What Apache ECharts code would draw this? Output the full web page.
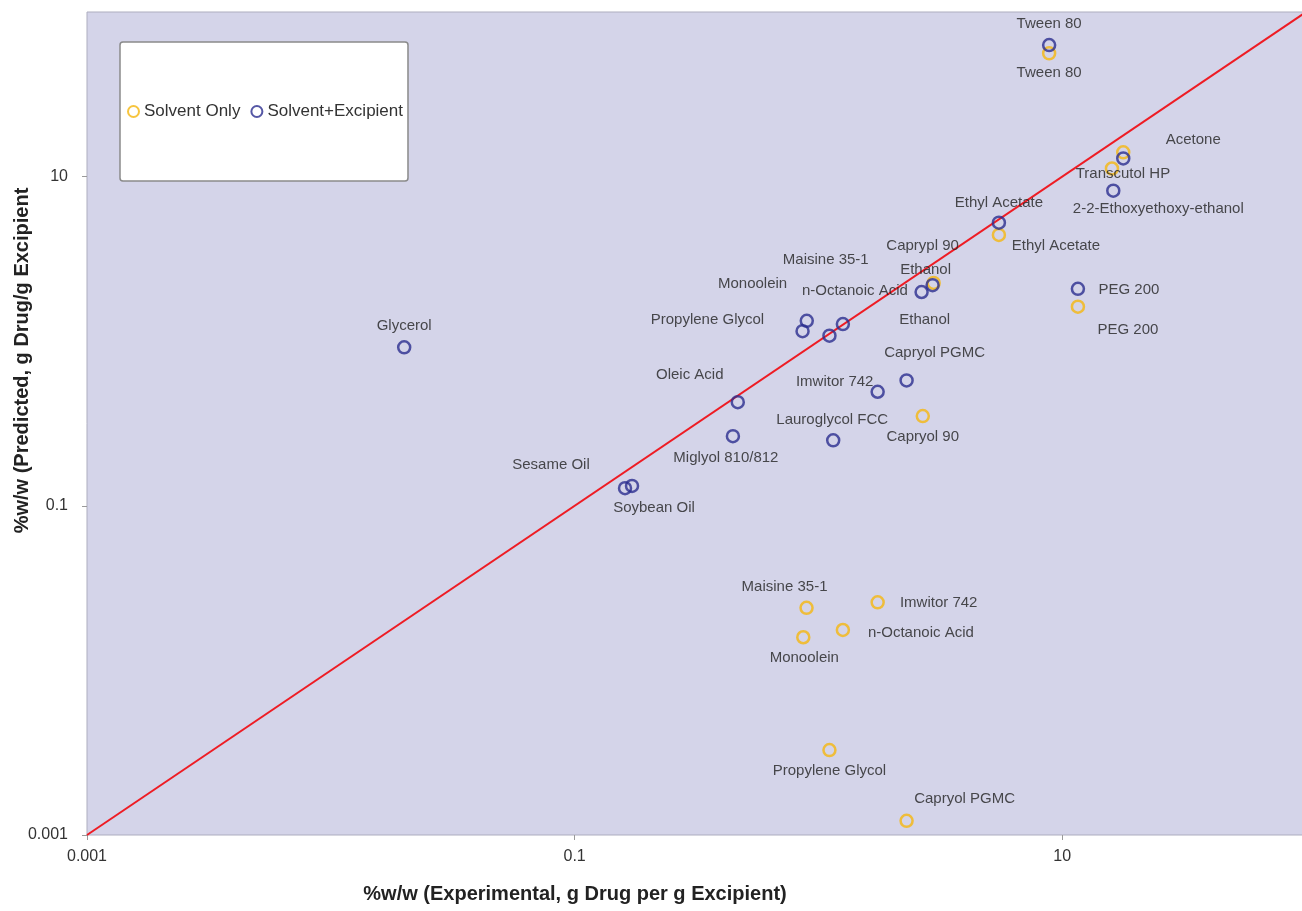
<!DOCTYPE html>
<html>
<head>
<meta charset="utf-8">
<script src="https://cdn.jsdelivr.net/npm/echarts@6/dist/echarts.min.js"></script>
<style>
html,body{margin:0;padding:0;background:#fff;}
#chart{width:1302px;height:911px;}
</style>
</head>
<body>
<div id="chart"></div>
<script>
// ---- Data ----
const xTickValues = [0.001, 0.1, 10];
const yTickValues = [0.001, 0.1, 10];

const soloNames = ['Tween 80','Acetone','Transcutol HP','Ethyl Acetate','Ethanol','PEG 200','Capryol 90','Maisine 35-1','Imwitor 742','n-Octanoic Acid','Monoolein','Propylene Glycol','Capryol PGMC'];
const soloX = [8.84, 17.8, 16.0, 5.50, 2.97, 11.6, 2.68, 0.894, 1.75, 1.26, 0.867, 1.11, 2.30];
const soloY = [56.1, 14.05, 11.2, 4.42, 2.26, 1.62, 0.351, 0.0240, 0.0259, 0.0176, 0.0159, 0.00328, 0.00122];

const excNames = ['Tween 80','Acetone','2-2-Ethoxyethoxy-ethanol','Ethyl Acetate','Ethanol','Caprypl 90','n-Octanoic Acid','Maisine 35-1','Monoolein','Propylene Glycol','PEG 200','Capryol PGMC','Imwitor 742','Oleic Acid','Miglyol 810/812','Lauroglycol FCC','Sesame Oil','Soybean Oil','Glycerol'];
const excX = [8.84, 17.8, 16.2, 5.50, 2.94, 2.65, 1.26, 0.896, 0.861, 1.11, 11.6, 2.30, 1.75, 0.467, 0.446, 1.15, 0.161, 0.172, 0.0200];
const excY = [63.0, 12.9, 8.21, 5.25, 2.19, 1.99, 1.27, 1.33, 1.15, 1.08, 2.08, 0.578, 0.493, 0.426, 0.265, 0.250, 0.128, 0.132, 0.918];

const identityX = [0.001, 100];
const identityY = [0.001, 100];

// ---- Label placement (pixel offsets from marker centre) ----
const soloLabelOffsets = [[0,20],[70,-12],[11,5],[57,11],[-9,37],[50,23],[0,21],[-22,-21],[61,0],[78,3],[1,21],[0,21],[58,-22]];
const excLabelOffsets = [[0,-21],null,[45,18],[0,-20],[-7,-15],[1,-46],[12,-33],[19,-61],[-50,-47],[-122,-16],[51,1],[28,-28],[-43,-10],[-48,-27],[-7,22],[-1,-20],[-74,-23],[22,22],[0,-21]];

const FONT = 'Liberation Sans, Arial, Helvetica, sans-serif';
const YELLOW = '#f5b70f';
const BLUE = '#2a2d8f';

function buildPoints(names, xs, ys, offsets) {
  return names.map((n, i) => {
    const off = offsets[i];
    return {
      name: n,
      value: [xs[i], ys[i]],
      label: off ? { show: true, formatter: n, position: 'inside', offset: off } : { show: false }
    };
  });
}

const chart = echarts.init(document.getElementById('chart'), null, { renderer: 'canvas' });

const axisCommon = {
  type: 'log',
  min: 0.001,
  max: 100,
  axisLine: { show: false },
  splitLine: { show: false },
  minorTick: { show: false },
  nameMoveOverlap: false
};

chart.setOption({
  animation: false,
  backgroundColor: '#ffffff',
  grid: {
    left: 87, top: 12, right: -4, bottom: 76,
    containLabel: false,
    outerBoundsMode: 'none',
    show: true,
    backgroundColor: '#d4d4e9',
    borderColor: '#adadbf',
    borderWidth: 1
  },
  legend: {
    left: 120, top: 42,
    orient: 'horizontal',
    padding: [61, 5, 61, 7],
    backgroundColor: '#ffffff',
    borderColor: '#8a8a8a',
    borderWidth: 1.5,
    borderRadius: 3,
    itemWidth: 11, itemHeight: 11, itemGap: 10,
    textStyle: { fontFamily: FONT, fontSize: 17, color: '#333' },
    data: ['Solvent Only', 'Solvent+Excipient']
  },
  xAxis: Object.assign({}, axisCommon, {
    name: '%w/w (Experimental, g Drug per g Excipient)',
    nameLocation: 'middle',
    nameGap: 49,
    nameTextStyle: { fontFamily: FONT, fontSize: 20, fontWeight: 'bold', color: '#222', padding: [0, 243, 0, 0] },
    axisTick: { show: true, inside: false, length: 5, lineStyle: { color: '#9a9a9a' }, customValues: xTickValues },
    axisLabel: { fontFamily: FONT, fontSize: 16, color: '#333', margin: 14, customValues: xTickValues, formatter: v => String(v) }
  }),
  yAxis: Object.assign({}, axisCommon, {
    name: '%w/w (Predicted, g Drug/g Excipient',
    nameLocation: 'middle',
    nameGap: 55,
    nameTextStyle: { fontFamily: FONT, fontSize: 20, fontWeight: 'bold', color: '#222', padding: [0, 0, 0, 126] },
    axisTick: { show: true, inside: false, length: 5, lineStyle: { color: '#9a9a9a' }, customValues: yTickValues },
    axisLabel: { fontFamily: FONT, fontSize: 16, color: '#333', margin: 19, customValues: yTickValues, formatter: v => String(v) }
  }),
  series: [
    {
      name: 'Identity',
      type: 'line',
      data: identityX.map((x, i) => [x, identityY[i]]),
      symbol: 'none',
      lineStyle: { color: '#ee1c24', width: 2 },
      silent: true,
      z: 2
    },
    {
      name: 'Solvent Only',
      type: 'scatter',
      symbol: 'circle',
      symbolSize: 12,
      itemStyle: { color: 'rgba(0,0,0,0)', borderColor: YELLOW, borderWidth: 2.5 },
      label: { fontFamily: FONT, fontSize: 15, color: '#222' },
      data: buildPoints(soloNames, soloX, soloY, soloLabelOffsets),
      z: 3
    },
    {
      name: 'Solvent+Excipient',
      type: 'scatter',
      symbol: 'circle',
      symbolSize: 12,
      itemStyle: { color: 'rgba(0,0,0,0)', borderColor: BLUE, borderWidth: 2.5 },
      label: { fontFamily: FONT, fontSize: 15, color: '#222' },
      data: buildPoints(excNames, excX, excY, excLabelOffsets),
      z: 4
    }
  ]
});
</script>
</body>
</html>
